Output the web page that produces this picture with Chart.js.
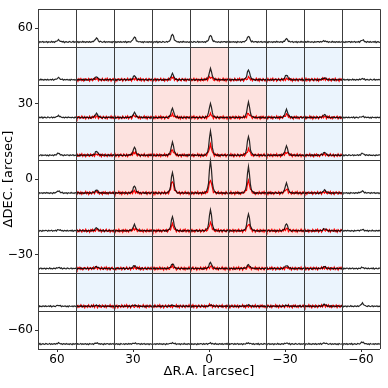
<!DOCTYPE html>
<html>
<head>
<meta charset="utf-8">
<script src="https://cdn.jsdelivr.net/npm/chart.js@4.4.1/dist/chart.umd.min.js"></script>
<style>
  html, body { margin: 0; padding: 0; background: #fff; }
</style>
</head>
<body>
<canvas id="mapa" width="388" height="388"></canvas>
<script>
// Centros de cada panel (arcsec)
const raOffsets = [60, 45, 30, 15, 0, -15, -30, -45, -60];
const decOffsets = [60, 45, 30, 15, 0, -15, -30, -45, -60];
const cellSize = 15;
const raTicks = [60, 30, 0, -30, -60];
const decTicks = [60, 30, 0, -30, -60];

// Altura del pico de cada espectro (filas de DEC arriba->abajo, columnas de RA izq->der)
const peakBlack = [
  [2, 4, 5, 8, 7, 6, 3, 1, 2],
  [2, 3, 4, 6, 11, 10, 5, 2, 1],
  [2, 4, 5, 9, 14, 15, 8, 3, 1],
  [2, 4, 8, 13, 24, 19, 9, 3, 2],
  [2, 3, 7, 21, 32, 26, 10, 3, 2],
  [1, 3, 6, 14, 21, 17, 7, 2, 1],
  [1, 2, 3, 5, 6, 4, 3, 2, 1],
  [1, 1, 1, 1, 1, 1, 1, 2, 3],
  [1, 1, 1, 1, 1, 1, 1, 1, 2]
];
const peakRed = [
  [null, null, null, null, null, null, null, null, null],
  [null, 1, 1, 2, 3, 2, 1, 1, null],
  [null, 1, 2, 3, 3, 4, 3, 1, null],
  [null, 1, 3, 5, 10, 6, 3, 1, null],
  [null, 1, 2, 12, 13, 12, 4, 1, null],
  [null, 1, 2, 6, 8, 7, 2, 1, null],
  [null, 1, 1, 2, 2, 2, 1, 1, null],
  [null, 0, 0, 0, 1, 0, 0, 1, null],
  [null, null, null, null, null, null, null, null, null]
];
// 0 = blanco, 1 = azul, 2 = rosa
const shade = [
  [0, 0, 0, 0, 0, 0, 0, 0, 0],
  [0, 1, 1, 1, 2, 1, 1, 1, 0],
  [0, 1, 1, 2, 2, 2, 1, 1, 0],
  [0, 1, 2, 2, 2, 2, 2, 1, 0],
  [0, 1, 2, 2, 2, 2, 2, 1, 0],
  [0, 1, 2, 2, 2, 2, 2, 1, 0],
  [0, 1, 1, 2, 2, 2, 1, 1, 0],
  [0, 1, 1, 1, 1, 1, 1, 1, 0],
  [0, 0, 0, 0, 0, 0, 0, 0, 0]
];

// Forma normalizada de la linea (por canal)
const profile = [0, 0, 0, 0, 0, 0, 0, 0, 0, 0, 0, 0, 0, 0, 0, 0,
  0.03, 0.06, 0.13, 0.32, 0.75, 1.0, 0.75, 0.32, 0.13, 0.06, 0.03,
  0, 0, 0, 0, 0, 0, 0, 0, 0, 0, 0, 0, 0];
// Ruido de la linea base
const noiseBlack = [0.3, -0.4, 0.5, -0.2, 0.1, 0.6, -0.5, 0.2, -0.1, 0.4, -0.6, 0.3, 0.0, -0.3, 0.7, -0.2,
  0.2, -0.5, 0.4, 0.1, -0.3, 0.5, -0.4, 0.0, 0.3, -0.2, 0.6, -0.6, 0.1, 0.4, -0.1, -0.4,
  0.5, 0.2, -0.3, 0.0, 0.6, -0.5, 0.3, -0.2, 0.1, 0.4, -0.4, 0.2, -0.6, 0.5, 0.0, -0.2,
  0.3, -0.5, 0.4, 0.1, -0.3, 0.6, -0.1, 0.2, -0.4, 0.3, 0.0, -0.6, 0.5, -0.2, 0.1, 0.4];
const noiseRed = [-1.0, 1.1, -0.3, 1.5, -1.2, 0.5, 0.9, -1.5, 0.2, 1.2, -0.6, -1.1, 1.3, 0.4, -0.9, 1.0,
  -1.3, 0.6, 0.0, -0.5, 1.5, -0.7, 0.7, -1.4, 1.1, -0.1, -1.0, 1.2, 0.2, -1.2, 0.9, 0.5,
  -0.7, 1.4, -1.1, 0.1, 0.6, -1.5, 1.0, -0.4, 1.3, -0.9, 0.4, -1.2, 0.7, 1.1, -0.6, -0.2,
  1.2, -1.3, 0.5, 0.9, -1.0, 0.0, 1.5, -0.7, -0.4, 1.0, -1.4, 0.6, 0.2, -1.1, 1.3, -0.5];

const baseLevel = 5;   // nivel de la linea base dentro del panel
const cellUnits = 38;  // unidades de intensidad por panel
const shadeColors = [null, '#ebf4fd', '#fde2df'];

// Construye los puntos de un espectro dentro de su panel
function spectrum(r, c, peak, noise, shift) {
  const pts = [];
  const n = profile.length;
  for (let i = 0; i < n; i++) {
    const v = peak * profile[i] + noise[(i + shift) % noise.length];
    pts.push({
      x: raOffsets[c] + cellSize / 2 - i * cellSize / (n - 1),
      y: decOffsets[r] - cellSize / 2 + (baseLevel + v) * cellSize / cellUnits
    });
  }
  return pts;
}

const datasets = [];
decOffsets.forEach((dec, r) => {
  const red = [];
  const black = [];
  raOffsets.forEach((ra, c) => {
    if (peakRed[r][c] !== null) {
      red.push(...spectrum(r, c, peakRed[r][c], noiseRed, (r * 13 + c * 5 + 17) % 64));
      red.push({ x: ra - cellSize / 2, y: null });
    }
    black.push(...spectrum(r, c, peakBlack[r][c], noiseBlack, (r * 11 + c * 7) % 64));
    black.push({ x: ra - cellSize / 2, y: null });
  });
  if (red.length) {
    datasets.push({ data: red, borderColor: '#ff0000', borderWidth: 1.2, pointRadius: 0, spanGaps: false, order: 2 });
  }
  datasets.push({ data: black, borderColor: 'rgba(0,0,0,0.85)', borderWidth: 1.2, pointRadius: 0, spanGaps: false, order: 1 });
});

// Fondos y bordes de los paneles
const panelPlugin = {
  id: 'panels',
  beforeDatasetsDraw(chart) {
    const { ctx, scales: { x, y } } = chart;
    ctx.save();
    decOffsets.forEach((dec, r) => {
      raOffsets.forEach((ra, c) => {
        const kind = shade[r][c];
        if (!kind) return;
        const x0 = x.getPixelForValue(ra + cellSize / 2);
        const x1 = x.getPixelForValue(ra - cellSize / 2);
        const y0 = y.getPixelForValue(dec + cellSize / 2);
        const y1 = y.getPixelForValue(dec - cellSize / 2);
        ctx.fillStyle = shadeColors[kind];
        ctx.fillRect(x0, y0, x1 - x0, y1 - y0);
      });
    });
    ctx.restore();
  },
  afterDatasetsDraw(chart) {
    const { ctx, chartArea, scales: { x, y } } = chart;
    ctx.save();
    ctx.strokeStyle = '#3c3c3c';
    ctx.lineWidth = 1;
    ctx.beginPath();
    const edgesX = raOffsets.map(v => v + cellSize / 2).concat([raOffsets[raOffsets.length - 1] - cellSize / 2]);
    const edgesY = decOffsets.map(v => v + cellSize / 2).concat([decOffsets[decOffsets.length - 1] - cellSize / 2]);
    edgesX.forEach(v => {
      const px = Math.round(x.getPixelForValue(v)) + 0.5;
      ctx.moveTo(px, chartArea.top);
      ctx.lineTo(px, chartArea.bottom);
    });
    edgesY.forEach(v => {
      const py = Math.round(y.getPixelForValue(v)) + 0.5;
      ctx.moveTo(chartArea.left, py);
      ctx.lineTo(chartArea.right, py);
    });
    ctx.stroke();
    ctx.restore();
  }
};

const fuenteTicks = { family: 'DejaVu Sans', size: 12 };
const fuenteTitulo = { family: 'DejaVu Sans', size: 13 };
// signo menos tipografico como en matplotlib
const etiqueta = v => (v < 0 ? '\u2212' + Math.abs(v) : String(v));

new Chart(document.getElementById('mapa'), {
  type: 'line',
  data: { datasets: datasets },
  options: {
    responsive: false,
    animation: false,
    layout: { padding: { top: 7, right: 8, bottom: 0, left: 0 } },
    plugins: { legend: { display: false }, tooltip: { enabled: false } },
    elements: { line: { tension: 0 } },
    scales: {
      x: {
        type: 'linear',
        min: -67.5,
        max: 67.5,
        reverse: true,
        afterBuildTicks: axis => { axis.ticks = raTicks.map(v => ({ value: v })); },
        afterFit: scale => { scale.height = 39; },
        ticks: { font: fuenteTicks, color: '#000', padding: 1, maxRotation: 0, callback: etiqueta },
        grid: { drawOnChartArea: false, drawTicks: true, tickLength: 3, color: '#333' },
        border: { display: false },
        title: { display: true, text: 'ΔR.A. [arcsec]', font: fuenteTitulo, color: '#000', padding: { top: 0, bottom: 9 } }
      },
      y: {
        type: 'linear',
        min: -67.5,
        max: 67.5,
        afterBuildTicks: axis => { axis.ticks = decTicks.map(v => ({ value: v })); },
        afterFit: scale => { scale.width = 38; },
        ticks: { font: fuenteTicks, color: '#000', padding: 2, callback: etiqueta },
        grid: { drawOnChartArea: false, drawTicks: true, tickLength: 3, color: '#333' },
        border: { display: false },
        title: { display: true, text: 'ΔDEC. [arcsec]', font: fuenteTitulo, color: '#000', padding: { top: 1, bottom: 0 } }
      }
    }
  },
  plugins: [panelPlugin]
});
</script>
</body>
</html>
